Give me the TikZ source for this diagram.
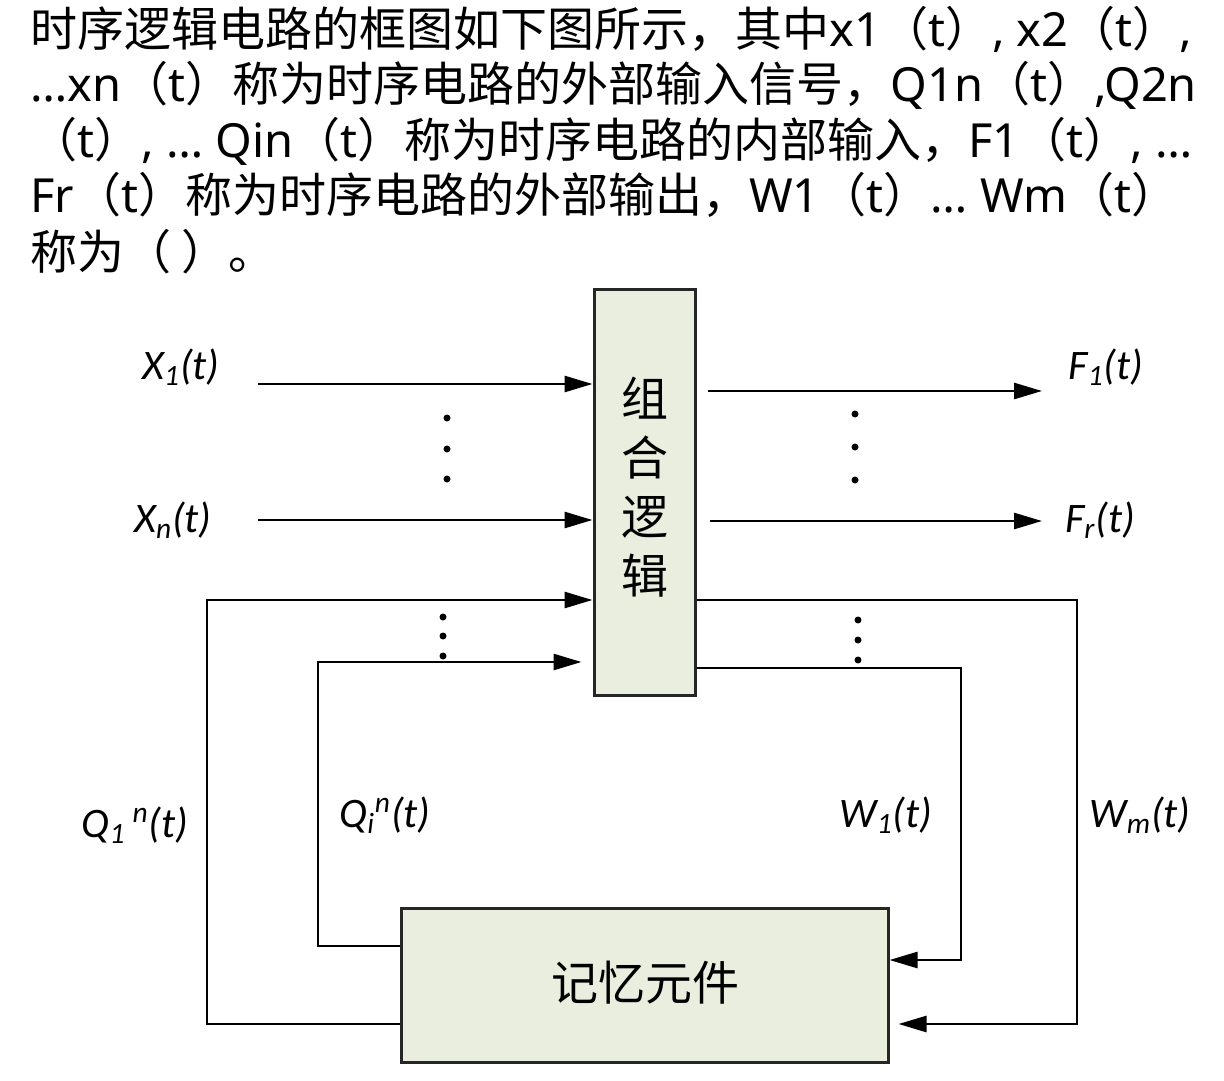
\documentclass[tikz,border=0pt]{standalone}
\usepackage{fontspec}
\setmainfont{Noto Sans CJK SC}
\newfontfamily\lat{Noto Sans}
\newfontfamily\labfont{Carlito}
\usetikzlibrary{arrows.meta}
\definecolor{boxgreen}{RGB}{233,238,223}
\begin{document}
\begin{tikzpicture}[x=0.5pt,y=-0.5pt,
  conn/.style={line width=1.35pt, black},
  arr/.style={conn, -{Triangle[length=14pt,width=8pt]}},
  blockbox/.style={draw=black!85, line width=1.5pt, fill=boxgreen, inner sep=0, anchor=center},
  lab/.style={font=\labfont\itshape\fontsize{21}{23}\selectfont, inner sep=0},
  para/.style={anchor=base west, inner sep=0, font=\fontsize{23.5}{28}\selectfont},
  vdot/.style={circle, fill=black, inner sep=0, minimum size=3.5pt},
  boxtext/.style={font=\fontsize{23.5}{29.5}\selectfont, inner sep=0, align=center}]
\useasboundingbox (0,0) rectangle (1224,1080);

% question text
\node[para] (l1) at (30,47) {时序逻辑电路的框图如下图所示，其中{\lat x1}（{\lat t}）{\lat , x2}（{\lat t}）{\lat ,}};
\node[para] (l2) at (30,102) {{\lat …xn}（{\lat t}）称为时序电路的外部输入信号，{\lat Q1n}（{\lat t}）{\lat ,Q2n}};
\node[para] (l3) at (30,158) {（{\lat t}）{\lat , … Qin}（{\lat t}）称为时序电路的内部输入，{\lat F1}（{\lat t}）{\lat , …}};
\node[para] (l4) at (30,213) {{\lat Fr}（{\lat t}）称为时序电路的外部输出，{\lat W1}（{\lat t}）{\lat … Wm}（{\lat t}）};
\node[para] (l5) at (30,270) {称为（ ）。};

% blocks
\node[blockbox, minimum width=50.5pt, minimum height=202.5pt] (comb) at (644.5,492.5) {};
\node[boxtext] (combt) at (645,487) {组\\合\\逻\\辑};
\node[blockbox, minimum width=243.5pt, minimum height=77pt] (mem) at (644.5,985) {};
\node[boxtext] (memt) at (645,983) {记忆元件};

% labels
\node[lab] (x1) at (181,367) {X\textsubscript{1}(t)};
\node[lab] (xn) at (173,520) {X\textsubscript{n}(t)};
\node[lab] (f1) at (1106,367) {F\textsubscript{1}(t)};
\node[lab] (fr) at (1100,520) {F\textsubscript{r}(t)};
\node[lab] (q1) at (135,825) {Q\textsubscript{1}\,\textsuperscript{n}(t)};
\node[lab] (qi) at (385,815) {Q\textsubscript{i}\textsuperscript{n}(t)};
\node[lab] (w1) at (886,815) {W\textsubscript{1}(t)};
\node[lab] (wm) at (1140,815) {W\textsubscript{m}(t)};

% coordinates
\coordinate (x1s) at (258,384);
\coordinate (xns) at (258,520);
\coordinate (f1s) at (708,391);
\coordinate (f1e) at (1042,391);
\coordinate (frs) at (710,521);
\coordinate (fre) at (1042,521);
\coordinate (yq1) at (0,1024);
\coordinate (yqi) at (0,946);
\coordinate (yw1) at (0,960);
\coordinate (ytop) at (0,600);
\coordinate (yqitop) at (0,662);
\coordinate (yw1top) at (0,668);

% inputs / outputs
\draw[arr] (x1s) -- (comb.west |- x1s);
\draw[arr] (xns) -- (comb.west |- xns);
\draw[arr] (f1s) -- (f1e);
\draw[arr] (frs) -- (fre);

% feedback loops
\draw[arr] (mem.west |- yq1) -- (207,1024) -- (207,600) -- (comb.west |- ytop);
\draw[arr, shorten >=5.5pt] (mem.west |- yqi) -- (318,946) -- (318,662) -- (comb.west |- yqitop);
\draw[arr] (comb.east |- yw1top) -- (961,668) -- (961,960) -- (mem.east |- yw1);
\draw[arr, shorten >=4.5pt] (comb.east |- ytop) -- (1077,600) -- (1077,1024) -- (mem.east |- yq1);

% dots
\foreach \i/\x/\y in {a/447/418, b/447/449, c/447/479, d/443/617, e/443/636, f/443/656,
                      g/855/414, h/855/447, k/855/480, m/858/620, n/858/640, p/858/660}
  \node[vdot] (dot\i) at (\x,\y) {};
\end{tikzpicture}
\end{document}
